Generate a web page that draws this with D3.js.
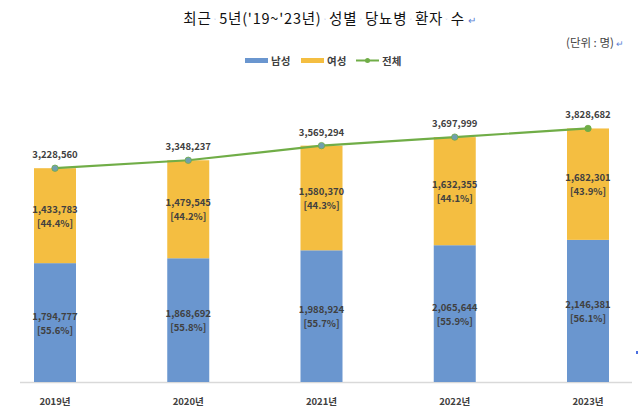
<!DOCTYPE html>
<html><head><meta charset="utf-8">
<script src="https://cdn.jsdelivr.net/npm/d3@7"></script>
<style>
body{margin:0;background:#fff;}
svg{display:block;font-family:"Noto Sans CJK KR","Noto Sans",sans-serif;}
</style></head>
<body><svg id="c" width="640" height="415"></svg>
<script>
const years = ["2019년","2020년","2021년","2022년","2023년"];
const male = [1794777,1868692,1988924,2065644,2146381];
const female = [1433783,1479545,1580370,1632355,1682301];
const total = [3228560,3348237,3569294,3697999,3828682];
const malePct = ["55.6%","55.8%","55.7%","55.9%","56.1%"];
const femalePct = ["44.4%","44.2%","44.3%","44.1%","43.9%"];

const svg = d3.select("#c");
const base = 382;
const y = d3.scaleLinear().domain([0,4500000]).range([base,84]);
const x = d3.scalePoint().domain(years).range([55,588]);
const bw = 42;
const fmt = d3.format(",");
const txt = "#404040";

// title
const t = svg.append("text").attr("x",330).attr("y",24).attr("text-anchor","middle")
  .attr("font-size",14.5).attr("fill","#111").attr("letter-spacing",0.8);
const words = ["최근","5년('19~'23년)","성별","당뇨병","환자","수"];
words.forEach((w,i)=>{
  t.append("tspan").text(w);
  if(i<words.length-1){ t.append("tspan").attr("fill","#8fa8e0").attr("font-size",7).text(" ˅ "); }
});
t.append("tspan").attr("fill","#5b7fd6").attr("font-size",10).text(" ↵");

svg.append("text").attr("x",566).attr("y",47).attr("font-size",11.5).attr("fill","#444")
  .html('(단위 : 명) <tspan fill="#5b7fd6" font-size="9">↵</tspan>');

// legend
const lg = svg.append("g").attr("font-size",10.5).attr("font-weight","bold").attr("fill",txt);
lg.append("rect").attr("x",245).attr("y",58).attr("width",23).attr("height",5).attr("fill","#6a96cf");
lg.append("text").attr("x",271).attr("y",65).text("남성");
lg.append("rect").attr("x",301).attr("y",58).attr("width",23).attr("height",5).attr("fill","#f4be41");
lg.append("text").attr("x",327).attr("y",65).text("여성");
lg.append("line").attr("x1",356).attr("x2",379).attr("y1",60.5).attr("y2",60.5).attr("stroke","#70ad47").attr("stroke-width",2);
lg.append("circle").attr("cx",367.5).attr("cy",60.5).attr("r",2.5).attr("fill","#70ad47");
lg.append("text").attr("x",382).attr("y",65).text("전체");

// axis line
svg.append("line").attr("x1",20).attr("x2",632).attr("y1",base+0.5).attr("y2",base+0.5)
  .attr("stroke","#d9d9d9").attr("stroke-width",1.5);

// bars
years.forEach((yr,i)=>{
  const cx = x(yr);
  svg.append("rect").attr("x",cx-bw/2).attr("width",bw)
    .attr("y",y(male[i])).attr("height",base-y(male[i])).attr("fill","#6a96cf");
  svg.append("rect").attr("x",cx-bw/2).attr("width",bw)
    .attr("y",y(male[i]+female[i])).attr("height",y(male[i])-y(male[i]+female[i])).attr("fill","#f4be41");
  const mc = (base+y(male[i]))/2, fc = (y(male[i])+y(male[i]+female[i]))/2;
  const g = svg.append("g").attr("font-size",9.5).attr("font-weight","bold").attr("fill",txt).attr("text-anchor","middle");
  g.append("text").attr("x",cx).attr("y",mc-3).text(fmt(male[i]));
  g.append("text").attr("x",cx).attr("y",mc+11).text("["+malePct[i]+"]");
  g.append("text").attr("x",cx).attr("y",fc-3).text(fmt(female[i]));
  g.append("text").attr("x",cx).attr("y",fc+11).text("["+femalePct[i]+"]");
  g.append("text").attr("x",cx).attr("y",y(total[i])-10).text(fmt(total[i]));
});

// line
const line = d3.line().x((d,i)=>x(years[i])).y(d=>y(d));
svg.append("path").datum(total).attr("d",line).attr("fill","none").attr("stroke","#70ad47").attr("stroke-width",2.2);
svg.selectAll(".dot").data(total).enter().append("circle")
  .attr("cx",(d,i)=>x(years[i])).attr("cy",d=>y(d)).attr("r",3.2)
  .attr("fill",(d,i)=>i<4?"#6f9fae":"#70ad47").attr("stroke","#70ad47").attr("stroke-width",0.8);

// x labels
svg.append("g").selectAll("text").data(years).enter().append("text")
  .attr("x",d=>x(d)).attr("y",405).attr("text-anchor","middle")
  .attr("font-size",9.5).attr("font-weight","bold").attr("fill",txt).text(d=>d);

svg.append("rect").attr("x",636).attr("y",351).attr("width",2).attr("height",3).attr("fill","#4a6fe0");
</script></body></html>
